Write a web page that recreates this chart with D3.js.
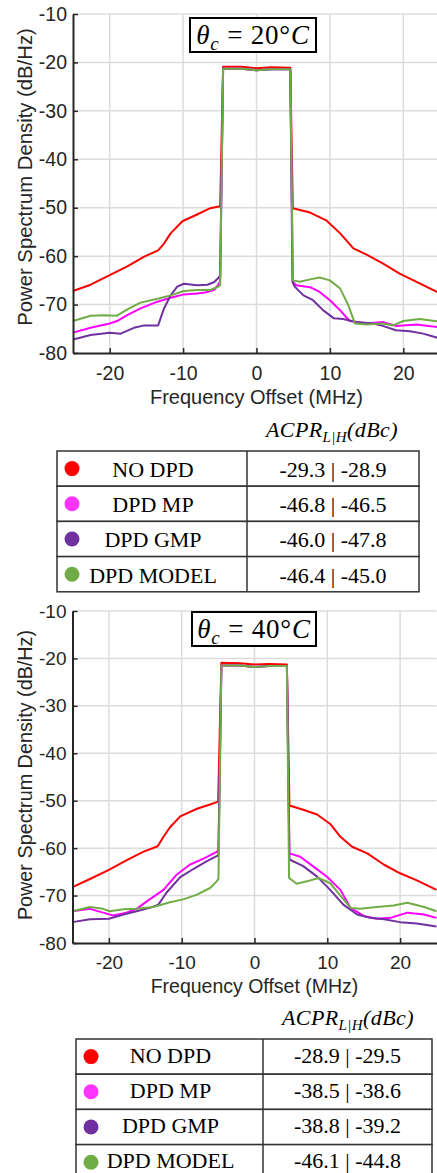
<!DOCTYPE html>
<html>
<head>
<meta charset="utf-8">
<script src="https://cdn.jsdelivr.net/npm/d3@7"></script>
<style>
  body { margin: 0; background: #fff; }
  svg { display: block; }
  .tick text { font-family: 'Liberation Sans', Arial, sans-serif; fill: #262626; }
</style>
</head>
<body>
<svg id="fig" width="437" height="1173"></svg>
<script>
// series names and colours (legend order)
var seriesNames = ['NO DPD', 'DPD MP', 'DPD GMP', 'DPD MODEL']
var seriesColors = ['#ff0000', '#ff00ff', '#7030a0', '#70ad47']
var dotColors = ['#ff0000', '#ff33ff', '#7030a0', '#70ad47']

// axis ticks
var xTicks = [-20, -10, 0, 10, 20]
var yTicks = [-80, -70, -60, -50, -40, -30, -20, -10]

// theta_c = 20 C  : [frequency offset MHz, PSD dB/Hz]
var noDpd20 = [[-25, -67.2], [-22.6, -65.9], [-20, -63.9], [-17.6, -62.1], [-15.3, -60.1], [-13.4, -58.8], [-12.6, -57.4], [-11.7, -55.3], [-10.1, -52.8], [-8.1, -51.4], [-6.3, -50.1], [-4.95, -49.7],
  [-4.55, -20.9], [-2, -20.9], [0, -21.2], [2, -21.0], [4.6, -21.1],
  [4.95, -50.1], [7.3, -51], [9.5, -52.6], [11.4, -55.3], [13.2, -58.4], [15, -59.7], [17.2, -61.5], [19.5, -63.6], [21.8, -65.3], [25, -67.7]]
var mp20 = [[-25, -75.8], [-22.6, -74.8], [-20, -73.9], [-19, -73.4], [-17.6, -72.2], [-15.8, -70.8], [-13.5, -69.4], [-11.7, -68.6], [-9.9, -67.9], [-8.1, -67.7], [-7, -67.5], [-5.8, -67], [-5.1, -65.7], [-4.95, -65],
  [-4.55, -21.3], [-2, -21.3], [0, -21.6], [2, -21.4], [4.6, -21.4],
  [4.95, -65.3], [5.4, -66], [7.3, -66.4], [8.6, -67.4], [10, -69.1], [11.4, -71.2], [12.7, -73.4], [15, -73.9], [17.2, -73.6], [19, -74.4], [21.8, -74.1], [25, -74.7]]
var gmp20 = [[-25, -77.2], [-22.6, -76.3], [-20, -75.8], [-18.5, -76], [-16.7, -74.8], [-15.3, -74.3], [-13.4, -74.3], [-12.6, -70.8], [-11.7, -68.1], [-10.8, -66.3], [-9.9, -65.7], [-8.1, -66], [-6.7, -65.9], [-5.8, -65.4], [-5.2, -64.5], [-4.95, -64],
  [-4.55, -21.3], [-2, -21.3], [0, -21.6], [2, -21.4], [4.6, -21.4],
  [4.9, -65.3], [5.2, -66.3], [6.4, -68.1], [7.7, -69.1], [9.1, -71.2], [10.5, -72.8], [11.8, -73], [13.6, -73.6], [15.9, -73.9], [17.2, -74.4], [19, -75.3], [20.9, -75.5], [22.7, -76], [25, -77]]
var model20 = [[-25, -73.4], [-22.6, -72.3], [-20.8, -72.2], [-19, -72.3], [-17.6, -71], [-15.8, -69.6], [-13.5, -68.8], [-11.7, -68.1], [-9.9, -67.2], [-8.1, -67], [-6.3, -67], [-5.2, -66.3], [-4.95, -66],
  [-4.55, -21.3], [-2, -21.3], [0, -21.6], [2, -21.4], [4.6, -21.4],
  [4.95, -65], [5.9, -65.3], [7.3, -64.8], [8.6, -64.4], [10, -65], [11.4, -66.7], [12.5, -70.1], [13.4, -73.9], [15, -74.1], [17.2, -73.9], [18.6, -74.3], [20, -73.4], [22.2, -73], [25, -73.5]]

// theta_c = 40 C
var noDpd40 = [[-25, -68.2], [-22.6, -66.5], [-20, -64.6], [-17.6, -62.6], [-15.3, -60.8], [-13.3, -59.6], [-12.5, -57.6], [-11.6, -55.6], [-10.2, -53.3], [-7.9, -51.7], [-6.1, -50.8], [-5, -50.2],
  [-4.55, -20.9], [-2, -21.0], [0, -21.3], [2, -21.2], [4.45, -21.3],
  [4.8, -51], [6.7, -51.9], [8.6, -52.9], [10.4, -54.9], [11.8, -57.6], [13.4, -59.7], [15.5, -61.1], [17.8, -63.5], [20, -65.3], [22.3, -66.8], [25, -68.8]]
var mp40 = [[-25, -73.3], [-22.6, -72.8], [-20.8, -73.6], [-19.4, -74.2], [-17.6, -73.6], [-16.2, -72.8], [-14.4, -70.8], [-12.5, -68.8], [-10.7, -65.6], [-8.9, -63.5], [-7, -62.2], [-5.2, -60.8], [-4.95, -60.5],
  [-4.55, -21.5], [-2, -21.5], [0, -21.8], [2, -21.6], [4.45, -21.6],
  [4.8, -61.1], [6.3, -61.8], [8.1, -63.9], [10, -66.1], [11.8, -68.8], [13.2, -72.6], [15, -74.3], [16.8, -74.9], [18.7, -74.7], [21, -73.6], [23.3, -74], [25, -74.7]]
var gmp40 = [[-25, -75.6], [-22.6, -75], [-20, -74.9], [-18, -74], [-16.2, -73.3], [-14.4, -72.6], [-13.2, -71.9], [-12.1, -69.4], [-10.2, -66.1], [-8.4, -64.4], [-6.6, -62.8], [-5.2, -61.7], [-4.95, -61.4],
  [-4.55, -21.5], [-2, -21.5], [0, -21.8], [2, -21.6], [4.45, -21.6],
  [4.8, -62.4], [6.7, -63.8], [8.6, -66], [10.4, -68.8], [12.2, -71.9], [14.1, -74], [15.9, -74.7], [17.8, -75], [20, -75.6], [22.3, -75.9], [25, -76.5]]
var model40 = [[-25, -73.3], [-22.6, -72.4], [-20.8, -72.8], [-19.9, -73.3], [-18, -72.9], [-16.2, -72.8], [-13.9, -72.4], [-11.6, -71.4], [-9.8, -70.8], [-7.9, -69.8], [-6.1, -68.4], [-5.2, -67], [-4.95, -66.5],
  [-4.55, -21.5], [-2, -21.5], [0, -21.8], [2, -21.6], [4.45, -21.6],
  [4.75, -66.3], [5.8, -67.5], [7.2, -67], [8.8, -66.3], [10.4, -67.4], [11.8, -70], [13.2, -72.6], [14.5, -72.8], [16.8, -72.4], [19.1, -72.1], [21, -71.5], [23.3, -72.4], [25, -73.3]]

// ACPR lower | upper (dBc)
var acprL20 = [-29.3, -46.8, -46.0, -46.4]
var acprH20 = [-28.9, -46.5, -47.8, -45.0]
var acprL40 = [-28.9, -38.5, -38.8, -46.1]
var acprH40 = [-29.5, -38.6, -39.2, -44.8]

var svg = d3.select('#fig')

// plain hyphen minus, like the original figure
function fmt(v) {
  return v.toFixed(1)
}

function drawChart(cfg) {
  var x = d3.scaleLinear().domain([-25, 25]).range([cfg.left, cfg.right])
  var y = d3.scaleLinear().domain([-80, -10]).range([cfg.bottom, cfg.top])
  var g = svg.append('g')

  // grid
  g.append('g')
    .selectAll('line')
    .data(xTicks)
    .enter()
    .append('line')
    .attr('x1', d => x(d))
    .attr('x2', d => x(d))
    .attr('y1', cfg.top)
    .attr('y2', cfg.bottom)
    .attr('stroke', '#dcdcdc')
    .attr('stroke-width', 1.5)
  g.append('g')
    .selectAll('line')
    .data(yTicks.slice(1))
    .enter()
    .append('line')
    .attr('x1', cfg.left)
    .attr('x2', cfg.right)
    .attr('y1', d => y(d))
    .attr('y2', d => y(d))
    .attr('stroke', '#dcdcdc')
    .attr('stroke-width', 1.5)

  // title box
  var tb = g.append('g')
  tb.append('rect')
    .attr('x', cfg.boxX)
    .attr('y', cfg.boxY)
    .attr('width', cfg.boxW)
    .attr('height', 34)
    .attr('fill', '#fff')
    .attr('stroke', '#000')
    .attr('stroke-width', 2)
  var tt = tb.append('text')
    .attr('x', cfg.boxX + cfg.boxW / 2)
    .attr('y', cfg.boxY + 26)
    .attr('text-anchor', 'middle')
    .attr('font-family', "'Liberation Serif', 'DejaVu Serif', serif")
    .attr('font-size', 27)
    .attr('letter-spacing', 0.8)
    .attr('fill', '#000')
  tt.append('tspan').attr('font-style', 'italic').text('θ')
  tt.append('tspan').attr('font-style', 'italic').attr('font-size', 19).attr('dy', 6).text('c')
  tt.append('tspan').attr('dy', -6).text(' = ' + cfg.temp + '°')
  tt.append('tspan').attr('font-style', 'italic').text('C')

  // series
  var line = d3.line()
    .x(d => x(d[0]))
    .y(d => y(d[1]))
  cfg.series.forEach(function(s, i) {
    g.append('path')
      .datum(s)
      .attr('d', line)
      .attr('fill', 'none')
      .attr('stroke', seriesColors[i])
      .attr('stroke-width', 2)
      .attr('stroke-linejoin', 'round')
  })

  // axes
  var ax = g.append('g')
    .attr('transform', 'translate(0,' + cfg.bottom + ')')
    .call(d3.axisBottom(x).tickValues(xTicks).tickFormat(d => String(d)).tickSizeInner(-5).tickSizeOuter(0).tickPadding(13))
  var ay = g.append('g')
    .attr('transform', 'translate(' + cfg.left + ',0)')
    .call(d3.axisLeft(y).tickValues(yTicks).tickFormat(d => String(d)).tickSizeInner(-5).tickSizeOuter(0).tickPadding(6))
  ;[ax, ay].forEach(function(a) {
    a.select('.domain').attr('stroke', '#262626').attr('stroke-width', 2)
    a.selectAll('.tick line').attr('stroke', '#262626').attr('stroke-width', 1.5)
    a.selectAll('.tick text').attr('font-size', cfg.fs)
  })

  // labels
  g.append('text')
    .attr('x', x(0))
    .attr('y', cfg.xLabelY)
    .attr('text-anchor', 'middle')
    .attr('font-family', "'Liberation Sans', Arial, sans-serif")
    .attr('font-size', cfg.fs + 0.5)
    .attr('fill', '#262626')
    .text('Frequency Offset (MHz)')
  g.append('text')
    .attr('transform', 'translate(32,' + cfg.yLabelMid + ') rotate(-90)')
    .attr('text-anchor', 'middle')
    .attr('font-family', "'Liberation Sans', Arial, sans-serif")
    .attr('font-size', cfg.fs + 0.8)
    .attr('fill', '#262626')
    .text('Power Spectrum Density (dB/Hz)')
}

function drawTable(cfg) {
  var g = svg.append('g')
  var rowH = 35.2

  // header ACPR_{L|H}(dBc)
  var h = g.append('text')
    .attr('x', cfg.headX)
    .attr('y', cfg.top - 14)
    .attr('font-family', "'Liberation Serif', 'DejaVu Serif', serif")
    .attr('font-style', 'italic')
    .attr('font-size', 22)
    .attr('letter-spacing', 0.4)
    .attr('fill', '#000')
  h.append('tspan').text('ACPR')
  h.append('tspan').attr('font-size', 15).attr('dy', 5).text('L|H')
  h.append('tspan').attr('dy', -5).text('(dBc)')

  var rows = g.selectAll('.row')
    .data(seriesNames)
    .enter()
    .append('g')
    .attr('transform', (d, i) => 'translate(0,' + (cfg.top + i * rowH) + ')')

  rows.append('rect')
    .attr('x', cfg.left)
    .attr('width', cfg.right - cfg.left)
    .attr('height', rowH)
    .attr('fill', '#fff')
    .attr('stroke', '#333')
    .attr('stroke-width', 1.5)
  rows.append('line')
    .attr('x1', cfg.mid)
    .attr('x2', cfg.mid)
    .attr('y1', 0)
    .attr('y2', rowH)
    .attr('stroke', '#333')
    .attr('stroke-width', 1.5)
  rows.append('circle')
    .attr('cx', cfg.left + 15)
    .attr('cy', rowH / 2)
    .attr('r', 7.5)
    .attr('fill', (d, i) => dotColors[i])
  rows.append('text')
    .attr('x', (cfg.left + cfg.mid) / 2 + 1)
    .attr('y', rowH / 2 + cfg.textDy)
    .attr('text-anchor', 'middle')
    .attr('font-family', "'Liberation Serif', 'Times New Roman', serif")
    .attr('font-size', 22)
    .attr('fill', '#000')
    .text(d => d)
  rows.append('text')
    .attr('x', (cfg.mid + cfg.right) / 2)
    .attr('y', rowH / 2 + cfg.textDy)
    .attr('text-anchor', 'middle')
    .attr('font-family', "'Liberation Serif', 'Times New Roman', serif")
    .attr('font-size', 22)
    .attr('fill', '#000')
    .text((d, i) => fmt(cfg.low[i]) + ' | ' + fmt(cfg.high[i]))
}

drawChart({
  left: 73, right: 440, top: 14, bottom: 353, fs: 19.5,
  boxX: 190, boxY: 18, boxW: 126, temp: 20,
  xLabelY: 404, yLabelMid: 177,
  series: [noDpd20, mp20, gmp20, model20]
})
drawTable({ left: 57, mid: 247, right: 419, top: 451, headX: 266, textDy: 8.5, low: acprL20, high: acprH20 })

drawChart({
  left: 72.5, right: 436.5, top: 611, bottom: 943, fs: 19,
  boxX: 192, boxY: 612, boxW: 124, temp: 40,
  xLabelY: 993, yLabelMid: 775,
  series: [noDpd40, mp40, gmp40, model40]
})
drawTable({ left: 76, mid: 263, right: 432, top: 1039, headX: 282, textDy: 6, low: acprL40, high: acprH40 })
</script>
</body>
</html>
